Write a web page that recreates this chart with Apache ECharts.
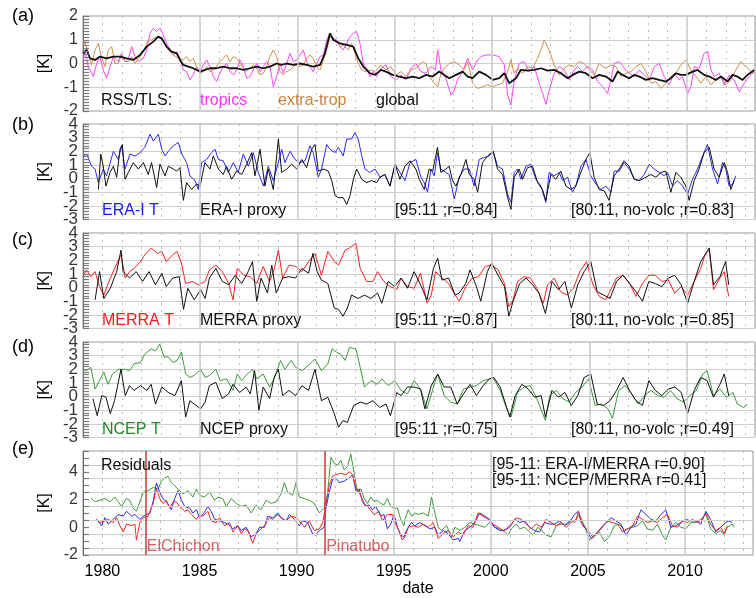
<!DOCTYPE html>
<html><head><meta charset="utf-8">
<script src="https://cdn.jsdelivr.net/npm/echarts@6/dist/echarts.min.js"></script>
<style>html,body{margin:0;padding:0;background:#fff}#c{width:756px;height:598px}</style>
</head><body><div id="c"></div>
<script>
// ---------- DATA (decimal year, K) ----------
const tropicsTLS = [[1979.0,0.08],[1979.1,0.57],[1979.27,-0.13],[1979.53,-0.55],[1979.7,0],[1979.87,0.29],[1980.04,-0.27],[1980.21,-0.62],[1980.39,-0.13],[1980.56,0.29],[1980.81,0.08],[1980.98,0.43],[1981.16,0.08],[1981.33,0.22],[1981.5,0.71],[1981.67,0.29],[1981.84,0.08],[1982.1,0.22],[1982.27,0.57],[1982.44,1.27],[1982.61,1.48],[1982.78,1.34],[1982.95,1.48],[1983.12,1.2],[1983.29,0.85],[1983.47,0.57],[1983.64,0.36],[1983.81,0.5],[1983.98,0.22],[1984.15,-0.27],[1984.32,-0.34],[1984.49,-0.69],[1984.66,-0.48],[1984.83,-0.13],[1985.01,-0.34],[1985.18,-0.06],[1985.35,0.15],[1985.52,-0.13],[1985.69,-0.55],[1985.86,-0.76],[1986.03,-0.41],[1986.2,-0.13],[1986.37,0],[1986.55,-0.34],[1986.72,-0.48],[1986.89,-0.27],[1987.06,0.15],[1987.23,-0.13],[1987.4,-0.62],[1987.57,-0.55],[1987.74,-0.27],[1987.92,0],[1988.09,-0.34],[1988.26,-0.13],[1988.43,0.08],[1988.6,-0.13],[1988.77,-0.98],[1988.94,-0.55],[1989.11,0],[1989.28,-0.41],[1989.46,0],[1989.63,0.43],[1989.8,0.08],[1989.97,0.15],[1990.14,0.36],[1990.31,0.57],[1990.48,0.08],[1990.65,-0.13],[1990.82,-0.34],[1991.0,0],[1991.17,0.29],[1991.34,0.36],[1991.51,0.99],[1991.68,1.27],[1991.85,1.06],[1992.02,0.99],[1992.19,0.71],[1992.36,0.57],[1992.54,0.85],[1992.71,1.13],[1992.88,1.27],[1993.05,1.34],[1993.22,0.85],[1993.39,0],[1993.56,-0.2],[1993.73,-0.55],[1993.9,-0.34],[1994.07,-0.55],[1994.3,-0.2],[1994.55,-0.06],[1994.81,-0.55],[1995.07,-0.69],[1995.32,-0.48],[1995.58,-0.69],[1995.84,-0.2],[1996.09,0],[1996.35,-0.34],[1996.61,-0.41],[1996.86,-0.13],[1997.09,-0.27],[1997.21,0.57],[1997.38,-0.27],[1997.63,-0.62],[1997.89,-1.33],[1998.06,-1.12],[1998.23,-0.69],[1998.49,-0.34],[1998.75,0.22],[1999.0,-0.27],[1999.26,0.15],[1999.43,0.29],[1999.69,0.36],[2000.03,0.36],[2000.37,0.29],[2000.63,-0.06],[2000.8,-1.33],[2000.97,-1.75],[2001.14,-0.69],[2001.4,0],[2001.65,0.08],[2001.91,-0.34],[2002.17,-0.13],[2002.42,-0.83],[2002.6,-1.26],[2002.77,-1.72],[2002.94,-1.12],[2003.19,-0.41],[2003.45,-0.13],[2003.71,-0.27],[2003.96,-0.69],[2004.22,-0.27],[2004.39,-0.13],[2004.65,-0.34],[2004.9,-0.13],[2005.16,-0.27],[2005.42,-0.76],[2005.68,-0.98],[2005.93,-1.26],[2006.1,-0.69],[2006.27,0],[2006.53,0.08],[2006.79,-0.2],[2007.04,-0.41],[2007.3,-0.55],[2007.56,-0.27],[2007.81,-0.48],[2008.07,-0.69],[2008.33,-0.13],[2008.58,0],[2008.84,-0.55],[2009.1,-0.9],[2009.35,-0.41],[2009.61,-0.69],[2009.78,-0.55],[2010.04,-1.26],[2010.21,-0.98],[2010.38,-0.13],[2010.64,-0.2],[2010.89,0.43],[2011.07,0.5],[2011.24,-0.27],[2011.41,-0.55],[2011.66,-0.41],[2011.92,-0.9],[2012.18,-0.48],[2012.43,-0.69],[2012.69,-1.19],[2012.95,-0.83],[2013.2,-0.55],[2013.46,-0.34]];
const extraTropTLS = [[1979.0,0.71],[1979.1,0.92],[1979.27,0.43],[1979.44,-0.06],[1979.62,0.57],[1979.79,0.85],[1979.96,0.22],[1980.13,-0.13],[1980.3,0.57],[1980.47,0.71],[1980.64,0],[1980.81,0],[1980.98,0.36],[1981.16,0.08],[1981.33,0.08],[1981.5,0.29],[1981.67,0],[1981.93,0.29],[1982.1,0.5],[1982.35,0.99],[1982.52,0.99],[1982.78,1.13],[1982.95,1.06],[1983.12,0.92],[1983.38,0.57],[1983.64,0.36],[1983.89,0.22],[1984.15,0.15],[1984.32,0.29],[1984.49,0.08],[1984.66,0.22],[1984.83,-0.13],[1985.01,-0.41],[1985.18,-0.34],[1985.35,-0.13],[1985.52,-0.34],[1985.78,-0.2],[1986.03,0.08],[1986.2,0.22],[1986.37,0.36],[1986.55,0.08],[1986.72,0.29],[1986.89,0.22],[1987.06,0],[1987.23,-0.2],[1987.4,-0.34],[1987.57,-0.2],[1987.74,-0.06],[1987.92,-0.2],[1988.09,-0.48],[1988.26,-0.41],[1988.43,-0.13],[1988.6,0.29],[1988.77,0.57],[1988.94,0.29],[1989.11,-0.34],[1989.28,-0.48],[1989.46,-0.34],[1989.63,-0.27],[1989.8,-0.13],[1989.97,-0.06],[1990.14,-0.13],[1990.31,-0.06],[1990.48,0.22],[1990.65,0.36],[1990.82,0.22],[1991.0,-0.13],[1991.17,-0.27],[1991.34,0.15],[1991.51,0.57],[1991.68,1.13],[1991.85,1.06],[1992.02,0.92],[1992.19,0.71],[1992.36,0.78],[1992.62,0.57],[1992.79,0.85],[1992.96,0.43],[1993.13,0],[1993.31,-0.27],[1993.48,-0.34],[1993.73,-0.27],[1993.99,-0.34],[1994.3,-0.06],[1994.55,-0.27],[1994.81,-0.13],[1995.07,-0.48],[1995.32,-0.34],[1995.58,-0.55],[1995.84,-0.27],[1996.09,-0.2],[1996.44,0.08],[1996.61,0],[1996.78,-0.55],[1997.03,-0.83],[1997.21,-0.98],[1997.38,-0.41],[1997.63,-0.13],[1997.8,0],[1998.06,0.08],[1998.32,-0.06],[1998.57,-0.27],[1998.75,0.08],[1999.0,-0.83],[1999.26,-1.05],[1999.52,-0.98],[1999.77,-0.9],[2000.03,-0.98],[2000.29,-0.9],[2000.54,-0.83],[2000.8,-0.34],[2000.97,0.15],[2001.14,-0.41],[2001.31,-0.2],[2001.57,-0.41],[2001.83,-0.13],[2002.08,-0.2],[2002.34,0.22],[2002.51,0.57],[2002.68,0.99],[2002.85,0.71],[2003.02,0.36],[2003.19,-0.06],[2003.45,-0.48],[2003.71,-0.2],[2003.96,-0.06],[2004.22,-0.13],[2004.48,0.08],[2004.73,0],[2004.99,-0.27],[2005.25,-0.48],[2005.5,0],[2005.68,-0.13],[2005.85,-0.2],[2006.1,-0.06],[2006.36,-0.13],[2006.62,-0.55],[2006.87,-0.41],[2007.13,-0.34],[2007.39,-0.13],[2007.64,0],[2007.9,-0.34],[2008.16,-0.83],[2008.41,-0.76],[2008.67,-1.05],[2008.93,-0.83],[2009.18,-0.55],[2009.44,-0.41],[2009.7,-0.06],[2009.95,0.15],[2010.21,-0.27],[2010.47,-0.55],[2010.72,-0.83],[2010.98,-0.55],[2011.24,-0.9],[2011.49,-0.69],[2011.75,-0.55],[2012.01,-0.9],[2012.26,-0.69],[2012.52,-0.27],[2012.78,0.08],[2013.03,-0.13],[2013.29,-0.34],[2013.46,-0.41]];
const globalTLS = [[1979.0,0.43],[1979.19,0.57],[1979.36,0.22],[1979.62,0.15],[1979.87,0.29],[1980.21,0.22],[1980.56,0.29],[1980.9,0.29],[1981.24,0.22],[1981.58,0.15],[1981.93,0.36],[1982.27,0.71],[1982.61,0.92],[1982.87,1.13],[1983.04,1.06],[1983.29,0.71],[1983.55,0.5],[1983.81,0.43],[1983.98,0.15],[1984.15,-0.06],[1984.41,-0.13],[1984.66,-0.2],[1985.01,-0.34],[1985.26,-0.27],[1985.52,-0.2],[1985.86,-0.2],[1986.2,-0.13],[1986.55,-0.2],[1986.89,-0.2],[1987.23,-0.27],[1987.57,-0.2],[1987.92,-0.13],[1988.26,-0.2],[1988.6,-0.13],[1988.94,0],[1989.2,-0.06],[1989.46,0],[1989.8,-0.06],[1990.14,0],[1990.48,-0.06],[1990.82,-0.13],[1991.17,-0.06],[1991.42,0.43],[1991.68,1.27],[1991.85,0.99],[1992.19,0.85],[1992.54,0.78],[1992.88,0.71],[1993.13,0.22],[1993.39,-0.13],[1993.73,-0.41],[1993.99,-0.48],[1994.3,-0.27],[1994.55,-0.34],[1994.9,-0.48],[1995.24,-0.55],[1995.58,-0.62],[1995.92,-0.55],[1996.26,-0.62],[1996.61,-0.48],[1996.95,-0.55],[1997.29,-0.34],[1997.55,-0.48],[1997.8,-0.62],[1998.15,-0.48],[1998.49,-0.34],[1998.75,-0.55],[1999.0,-0.62],[1999.34,-0.34],[1999.69,-0.48],[2000.03,-0.69],[2000.37,-0.62],[2000.63,-0.41],[2000.88,-0.83],[2001.23,-0.62],[2001.48,-0.27],[2001.83,-0.3],[2002.17,-0.27],[2002.51,-0.2],[2002.85,-0.3],[2003.19,-0.27],[2003.54,-0.41],[2003.88,-0.62],[2004.14,-0.48],[2004.48,-0.34],[2004.82,-0.41],[2005.16,-0.62],[2005.5,-0.48],[2005.85,-0.55],[2006.19,-0.76],[2006.45,-0.34],[2006.7,-0.48],[2007.04,-0.62],[2007.3,-0.48],[2007.56,-0.55],[2007.9,-0.69],[2008.24,-0.62],[2008.58,-0.69],[2008.93,-0.76],[2009.18,-0.62],[2009.44,-0.41],[2009.7,-0.48],[2009.95,-0.48],[2010.3,-0.34],[2010.55,-0.27],[2010.89,-0.48],[2011.15,-0.55],[2011.49,-0.69],[2011.75,-0.55],[2012.09,-0.76],[2012.35,-0.48],[2012.6,-0.55],[2012.86,-0.69],[2013.12,-0.48],[2013.46,-0.27]];

const eraT = [[1979.02,1.66],[1979.19,1.8],[1979.44,0.9],[1979.62,0.7],[1979.79,-0.3],[1980.04,0.7],[1980.21,0.2],[1980.56,2.0],[1980.81,1.4],[1980.98,2.4],[1981.16,0.7],[1981.41,1.8],[1981.67,1.65],[1981.93,1.9],[1982.18,2.3],[1982.44,3.25],[1982.61,2.75],[1982.87,3.25],[1983.04,2.15],[1983.21,1.66],[1983.38,2.0],[1983.64,2.4],[1983.89,2.65],[1984.07,1.8],[1984.32,1.17],[1984.49,0.2],[1984.75,-0.15],[1984.92,-0.8],[1985.09,1.17],[1985.35,1.4],[1985.6,1.9],[1985.78,2.15],[1985.95,1.4],[1986.2,1.3],[1986.46,0.45],[1986.72,1.17],[1986.97,0.45],[1987.23,1.8],[1987.49,0.9],[1987.74,1.9],[1988.0,0.45],[1988.26,-0.55],[1988.51,0.9],[1988.77,-0.15],[1988.94,0.7],[1989.2,2.15],[1989.37,1.17],[1989.63,2.0],[1989.88,1.4],[1990.14,1.17],[1990.4,1.3],[1990.65,2.4],[1990.82,1.9],[1991.08,0.1],[1991.25,0.7],[1991.51,2.5],[1991.68,2.15],[1991.94,1.9],[1992.11,2.3],[1992.36,1.66],[1992.54,2.9],[1992.79,2.9],[1992.96,3.35],[1993.13,2.9],[1993.31,1.66],[1993.48,0.7],[1993.73,0.45],[1993.99,0.7],[1994.25,0.1],[1994.5,0.3],[1994.76,-0.55],[1995.02,1.05],[1995.27,0.45],[1995.53,-0.15],[1995.79,1.17],[1996.09,1.4],[1996.35,0.1],[1996.52,-0.3],[1996.69,-1.0],[1996.86,0.7],[1997.03,0.2],[1997.2,1.9],[1997.37,0.7],[1997.63,0.45],[1997.8,0.3],[1998.06,-1.5],[1998.31,0.1],[1998.57,0.7],[1998.83,0.7],[1999.08,-0.55],[1999.34,1.4],[1999.6,1.55],[1999.85,1.65],[2000.06,2.0],[2000.28,0.9],[2000.54,0.7],[2000.8,-1.15],[2000.97,-1.75],[2001.14,0.45],[2001.31,0.7],[2001.48,-0.05],[2001.74,0.9],[2001.99,1.05],[2002.25,-0.05],[2002.51,-0.55],[2002.76,-1.75],[2002.93,0.45],[2003.19,0.2],[2003.45,0.45],[2003.62,-0.15],[2003.88,0.1],[2004.13,-1.0],[2004.3,-0.55],[2004.56,0.9],[2004.82,1.4],[2005.07,0.2],[2005.33,-0.4],[2005.59,-0.8],[2005.84,-0.55],[2006.1,-1.0],[2006.27,0.55],[2006.53,0.55],[2006.78,1.17],[2007.04,0.7],[2007.3,-0.05],[2007.55,-0.15],[2007.81,0.3],[2008.07,1.05],[2008.32,0.7],[2008.58,0.45],[2008.84,0.2],[2009.01,0.45],[2009.27,-0.55],[2009.52,-0.15],[2009.78,-0.55],[2010.04,-1.15],[2010.29,-0.05],[2010.55,0.7],[2010.81,1.65],[2011.06,2.5],[2011.32,0.7],[2011.58,-0.4],[2011.83,1.17],[2012.0,0.7],[2012.17,-0.55],[2012.35,-0.4],[2012.52,0.2]];
const eraProxy = [[1979.79,-0.8],[1979.91,1.8],[1980.04,0.9],[1980.18,-0.55],[1980.39,0.45],[1980.56,0.9],[1980.73,0.1],[1980.9,2.15],[1981.02,2.5],[1981.16,-0.05],[1981.33,0.45],[1981.58,1.17],[1981.84,0.7],[1982.1,1.17],[1982.35,0.3],[1982.52,1.17],[1982.78,-0.65],[1982.95,1.05],[1983.21,0.2],[1983.38,0.9],[1983.64,0.7],[1983.81,0.55],[1983.98,0.8],[1984.15,-1.6],[1984.32,-0.3],[1984.58,-0.8],[1984.83,-0.4],[1985.01,-0.55],[1985.26,1.17],[1985.52,0.7],[1985.69,1.66],[1985.95,0.7],[1986.2,0.3],[1986.37,0.9],[1986.63,-0.05],[1986.89,0.55],[1987.15,0.3],[1987.4,1.05],[1987.66,1.9],[1987.83,0.2],[1988.09,2.15],[1988.34,-0.55],[1988.51,0.7],[1988.77,-0.8],[1989.03,2.9],[1989.2,0.45],[1989.46,0.7],[1989.71,1.05],[1989.97,0.7],[1990.23,1.4],[1990.48,0.8],[1990.74,2.15],[1990.91,2.5],[1991.08,0.55],[1991.34,0.7],[1991.59,0.55],[1991.77,-0.15],[1991.94,-1.25],[1992.11,-1.4],[1992.36,-1.4],[1992.54,-1.9],[1992.71,-1.25],[1992.88,-0.05],[1993.05,0.7],[1993.31,-0.05],[1993.56,-0.3],[1993.82,-0.15],[1994.08,-0.3],[1994.25,0.1],[1994.5,0.3],[1994.76,-0.55],[1995.02,1.05],[1995.27,-0.05],[1995.53,0.9],[1995.79,1.3],[1996.09,0.7],[1996.26,-0.05],[1996.52,-0.8],[1996.77,0.7],[1996.95,0.55],[1997.2,2.3],[1997.37,0.45],[1997.63,0.7],[1997.8,0.9],[1997.97,-0.15],[1998.14,-0.55],[1998.4,0.3],[1998.66,1.4],[1998.83,0.3],[1999.08,-0.05],[1999.26,-1.0],[1999.51,1.17],[1999.77,1.65],[2000.06,2.0],[2000.28,0.7],[2000.54,0.3],[2000.8,-1.4],[2000.97,-2.25],[2001.14,0.1],[2001.39,0.7],[2001.57,-0.05],[2001.82,0.8],[2002.08,0.9],[2002.34,-0.3],[2002.59,-0.8],[2002.76,-1.6],[2003.02,0.3],[2003.28,-0.05],[2003.53,0.55],[2003.79,-0.55],[2004.05,-0.8],[2004.3,-0.55],[2004.56,0.45],[2004.82,1.4],[2005.02,1.9],[2005.24,0.1],[2005.5,-0.8],[2005.76,-0.9],[2006.01,-1.6],[2006.27,0.2],[2006.53,0.7],[2006.78,1.3],[2007.04,0.9],[2007.3,-0.05],[2007.55,-0.15],[2007.9,0.1],[2008.15,0.3],[2008.41,0.1],[2008.67,0.45],[2008.92,0.55],[2009.18,-1.0],[2009.44,0.45],[2009.69,0.1],[2009.95,-0.55],[2010.12,-1.6],[2010.38,-0.15],[2010.63,0.7],[2010.89,1.9],[2011.15,2.3],[2011.4,0.7],[2011.66,0.1],[2011.92,1.17],[2012.09,0.45],[2012.26,-0.8],[2012.43,-0.15]];

const merraT = [[1979.0,0.8],[1979.18,1.3],[1979.4,0.8],[1979.62,1.17],[1979.85,0.07],[1980.07,-0.55],[1980.29,0.3],[1980.62,1.4],[1980.95,2.4],[1981.17,0.7],[1981.39,1.17],[1981.62,1.4],[1981.95,1.9],[1982.17,2.4],[1982.5,2.9],[1982.83,2.5],[1983.05,2.65],[1983.27,1.9],[1983.61,2.4],[1983.83,2.65],[1984.05,1.8],[1984.27,0.3],[1984.6,0.45],[1984.93,0.2],[1985.27,0.45],[1985.49,1.3],[1985.82,1.65],[1986.15,1.17],[1986.48,0.3],[1986.7,-0.9],[1986.92,1.4],[1987.26,0.9],[1987.59,0.8],[1987.92,0.3],[1988.25,1.55],[1988.58,0.45],[1988.81,1.3],[1989.03,2.75],[1989.25,0.7],[1989.58,1.65],[1989.91,1.55],[1990.24,1.17],[1990.58,1.9],[1990.91,2.5],[1991.24,0.9],[1991.57,2.65],[1991.9,1.9],[1992.12,1.65],[1992.46,2.75],[1992.68,2.9],[1993.01,3.25],[1993.23,1.4],[1993.56,0.45],[1993.89,0.45],[1994.12,1.17],[1994.45,0.45],[1994.78,0.07],[1995.11,-0.15],[1995.33,0.7],[1995.66,0.07],[1996.0,-0.05],[1996.33,1.05],[1996.66,-1.15],[1996.88,-0.55],[1997.1,1.17],[1997.43,0.7],[1997.77,0.3],[1998.1,-0.55],[1998.32,-1.0],[1998.65,0.07],[1998.98,0.7],[1999.31,0.8],[1999.65,1.55],[1999.98,1.65],[2000.31,1.3],[2000.64,0.3],[2000.86,-1.4],[2001.08,-0.9],[2001.31,0.45],[2001.64,0.8],[2001.97,0.7],[2002.3,-0.05],[2002.63,-1.15],[2002.85,0.2],[2003.19,0.7],[2003.52,-0.3],[2003.85,-0.55],[2004.18,-0.05],[2004.51,1.17],[2004.85,1.9],[2005.18,0.2],[2005.51,-0.65],[2005.84,-0.9],[2006.17,0.07],[2006.39,0.7],[2006.73,0.9],[2007.06,0.3],[2007.39,-0.65],[2007.72,0.3],[2008.05,0.9],[2008.38,0.9],[2008.72,0.45],[2009.05,0.55],[2009.38,-0.4],[2009.71,0.07],[2010.04,-0.55],[2010.38,0.45],[2010.71,1.4],[2010.93,2.4],[2011.15,2.75],[2011.37,-0.15],[2011.7,0.7],[2011.92,1.17],[2012.15,-0.65]];
const merraProxy = [[1979.62,-0.9],[1979.85,1.17],[1980.07,-0.8],[1980.4,-0.05],[1980.73,1.17],[1980.95,2.75],[1981.06,1.17],[1981.39,0.7],[1981.73,1.17],[1982.06,0.45],[1982.39,1.17],[1982.72,0.2],[1983.05,1.05],[1983.27,0.07],[1983.61,0.7],[1983.94,0.8],[1984.16,-1.6],[1984.38,-0.05],[1984.71,-0.9],[1985.04,-0.15],[1985.27,-0.8],[1985.49,0.7],[1985.82,1.4],[1986.15,0.45],[1986.48,0.2],[1986.81,0.9],[1987.15,0.3],[1987.48,1.17],[1987.7,1.9],[1987.92,-1.0],[1988.14,0.7],[1988.47,-0.4],[1988.69,1.65],[1988.92,-0.4],[1989.25,0.7],[1989.58,0.8],[1989.91,0.7],[1990.24,1.4],[1990.58,1.05],[1990.8,2.5],[1991.02,1.17],[1991.24,0.55],[1991.57,0.3],[1991.9,-1.5],[1992.12,-1.6],[1992.35,-2.1],[1992.57,-1.5],[1992.79,-0.55],[1993.12,-0.8],[1993.45,-0.55],[1993.78,-0.8],[1994.12,-0.4],[1994.34,-1.15],[1994.67,0.45],[1995.0,0.07],[1995.33,0.7],[1995.66,-0.05],[1996.0,1.17],[1996.33,0.2],[1996.66,-0.9],[1996.99,1.4],[1997.21,2.15],[1997.43,0.55],[1997.77,0.7],[1998.1,-0.55],[1998.32,-0.4],[1998.65,0.3],[1998.87,1.3],[1999.2,0.07],[1999.42,-1.0],[1999.76,1.17],[1999.98,1.8],[2000.31,0.9],[2000.64,0.07],[2000.86,-2.1],[2001.08,-1.0],[2001.42,0.3],[2001.75,0.7],[2002.08,0.2],[2002.41,-0.4],[2002.74,-1.9],[2003.08,0.45],[2003.41,-0.15],[2003.74,0.45],[2004.07,-1.5],[2004.4,0.2],[2004.73,1.17],[2005.07,1.9],[2005.4,-0.3],[2005.73,-0.55],[2006.06,-0.8],[2006.39,0.45],[2006.73,0.9],[2007.06,0.3],[2007.39,-0.3],[2007.72,-1.0],[2008.05,0.45],[2008.38,0.3],[2008.72,0.07],[2009.05,0.7],[2009.38,0.9],[2009.71,0.2],[2010.04,-1.15],[2010.38,0.45],[2010.71,1.9],[2011.15,2.9],[2011.37,0.2],[2011.7,0.8],[2011.99,1.9],[2012.15,0.2]];

const ncepT = [[1979.0,2.0],[1979.18,1.9],[1979.4,2.15],[1979.62,0.55],[1979.85,1.17],[1980.07,1.8],[1980.29,0.9],[1980.51,1.65],[1980.84,2.0],[1981.17,2.0],[1981.39,1.9],[1981.62,2.4],[1981.95,2.5],[1982.17,3.1],[1982.5,3.5],[1982.72,3.35],[1982.94,3.85],[1983.16,2.9],[1983.38,2.9],[1983.61,2.5],[1983.83,2.65],[1984.05,3.25],[1984.27,1.65],[1984.49,1.4],[1984.71,1.55],[1985.04,2.0],[1985.27,1.4],[1985.49,1.55],[1985.82,2.0],[1986.04,1.17],[1986.37,1.3],[1986.7,0.45],[1986.92,1.65],[1987.15,1.17],[1987.37,1.55],[1987.7,2.0],[1987.92,1.3],[1988.25,1.65],[1988.58,0.7],[1988.81,1.3],[1989.14,2.65],[1989.36,2.0],[1989.69,2.65],[1989.91,2.15],[1990.24,1.9],[1990.58,2.3],[1990.91,2.75],[1991.24,1.9],[1991.57,2.4],[1991.79,3.5],[1992.01,3.25],[1992.23,3.1],[1992.46,2.65],[1992.68,3.6],[1993.01,3.5],[1993.23,2.15],[1993.45,0.7],[1993.78,1.17],[1994.12,0.9],[1994.34,1.3],[1994.67,0.8],[1995.0,1.17],[1995.33,0.45],[1995.66,0.2],[1996.0,1.17],[1996.33,0.55],[1996.66,-0.9],[1996.99,0.7],[1997.21,1.65],[1997.54,0.07],[1997.88,-0.4],[1998.21,-0.55],[1998.54,0.55],[1998.87,0.7],[1999.2,0.8],[1999.54,1.17],[1999.87,1.3],[2000.09,1.3],[2000.42,0.45],[2000.75,-0.9],[2000.97,-1.5],[2001.31,0.3],[2001.64,0.7],[2001.97,0.8],[2002.3,-0.15],[2002.74,-1.75],[2002.96,0.07],[2003.3,0.45],[2003.63,-0.15],[2003.96,-0.4],[2004.29,0.3],[2004.62,0.7],[2004.96,1.3],[2005.29,-0.65],[2005.62,-0.55],[2005.96,-0.9],[2006.18,-1.6],[2006.5,0.45],[2006.84,0.8],[2007.17,0.2],[2007.5,-0.55],[2007.83,0.07],[2008.16,0.45],[2008.5,0.07],[2008.83,-0.05],[2009.16,0.45],[2009.49,-0.15],[2009.82,-0.4],[2010.16,0.07],[2010.49,0.45],[2010.82,1.65],[2011.04,1.9],[2011.37,0.07],[2011.7,0.55],[2012.04,-0.05],[2012.37,0.3],[2012.59,-0.55],[2012.92,-0.8],[2013.1,-0.55]];
const ncepProxy = [[1979.51,-0.15],[1979.73,-1.4],[1979.96,0.07],[1980.18,-0.05],[1980.4,-1.25],[1980.62,-0.3],[1980.95,2.0],[1981.17,0.07],[1981.39,0.8],[1981.62,0.45],[1981.95,0.8],[1982.28,0.45],[1982.5,0.9],[1982.72,-0.55],[1983.05,0.7],[1983.38,0.3],[1983.72,0.07],[1984.05,1.17],[1984.27,-1.5],[1984.49,-0.3],[1984.71,-0.55],[1985.04,-0.9],[1985.27,-0.4],[1985.49,0.8],[1985.82,1.05],[1986.15,-0.15],[1986.48,0.2],[1986.7,0.9],[1987.04,0.3],[1987.37,0.7],[1987.59,0.2],[1987.81,1.9],[1988.03,-1.0],[1988.25,0.7],[1988.58,-0.15],[1988.81,1.4],[1989.03,2.0],[1989.25,0.07],[1989.58,0.45],[1989.91,0.07],[1990.24,0.8],[1990.58,0.45],[1990.91,2.0],[1991.24,-0.3],[1991.57,-0.05],[1991.9,-1.25],[1992.12,-2.25],[1992.35,-1.75],[1992.57,-1.9],[1992.9,-0.65],[1993.23,-0.4],[1993.56,-0.55],[1993.89,-0.3],[1994.23,-0.8],[1994.56,-0.55],[1994.78,-1.4],[1995.11,0.3],[1995.33,0.07],[1995.66,0.7],[1996.0,0.7],[1996.33,0.55],[1996.55,-0.9],[1996.88,0.8],[1997.21,1.65],[1997.54,0.7],[1997.88,0.7],[1998.21,-0.55],[1998.54,0.2],[1998.87,0.9],[1999.2,0.07],[1999.54,0.8],[1999.87,1.3],[2000.09,1.4],[2000.42,0.7],[2000.75,-0.8],[2000.91,-1.5],[2001.19,0.07],[2001.53,0.9],[2001.86,0.55],[2002.19,-0.05],[2002.52,0.07],[2002.74,-1.5],[2003.08,0.45],[2003.41,-0.05],[2003.74,0.3],[2004.07,-0.65],[2004.4,0.07],[2004.73,1.4],[2005.07,1.65],[2005.4,-0.55],[2005.73,-0.65],[2006.06,-0.3],[2006.39,0.45],[2006.73,1.4],[2007.06,0.45],[2007.39,-0.3],[2007.72,-0.65],[2008.05,1.17],[2008.38,0.45],[2008.72,0.07],[2009.05,0.55],[2009.38,0.7],[2009.71,0.3],[2010.04,-1.25],[2010.38,0.45],[2010.71,1.4],[2011.04,1.17],[2011.37,-0.05],[2011.7,0.9],[2011.92,1.65],[2012.15,0.07]];

const residERA = [[1979.7,0.57],[1979.96,0.11],[1980.13,0.69],[1980.3,0.23],[1980.56,0.57],[1980.81,0.92],[1981.07,0.8],[1981.24,1.15],[1981.5,0.8],[1981.67,0.92],[1981.93,0.57],[1982.1,0.8],[1982.27,0.92],[1982.44,1.03],[1982.61,1.84],[1982.78,3.2],[1982.95,2.5],[1983.12,2.07],[1983.29,1.84],[1983.55,1.26],[1983.72,2.07],[1983.89,2.64],[1984.07,1.95],[1984.24,1.5],[1984.49,1.38],[1984.66,1.03],[1984.84,1.26],[1985.01,0.69],[1985.18,0.92],[1985.43,1.5],[1985.6,1.15],[1985.78,0.57],[1986.03,0.46],[1986.29,0.34],[1986.46,0.23],[1986.72,-0.11],[1986.97,0.11],[1987.15,-0.23],[1987.4,0],[1987.66,-0.69],[1987.92,-0.46],[1988.09,0],[1988.34,0],[1988.51,0.8],[1988.77,0.69],[1989.03,1.03],[1989.2,0.69],[1989.46,0.46],[1989.63,0.92],[1989.88,0.57],[1990.14,0.11],[1990.31,0.46],[1990.57,0.34],[1990.82,-0.46],[1990.99,-0.57],[1991.17,-0.23],[1991.42,0],[1991.51,1.38],[1991.68,2.53],[1991.85,3.45],[1992.02,3.56],[1992.19,3.22],[1992.45,3.33],[1992.71,3.56],[1992.88,3.79],[1993.05,2.64],[1993.22,2.76],[1993.39,1.84],[1993.56,1.5],[1993.73,1.61],[1993.9,1.26],[1994.08,1.5],[1994.33,0.8],[1994.5,0.92],[1994.67,-0.11],[1994.85,0.23],[1995.02,0.92],[1995.19,0],[1995.36,-0.57],[1995.53,-0.69],[1995.58,-0.46],[1995.75,0],[1995.92,0.34],[1996.09,0.11],[1996.35,0.34],[1996.61,0.11],[1996.86,-0.11],[1997.12,0],[1997.29,-0.57],[1997.55,-0.23],[1997.8,-0.46],[1998.06,-0.92],[1998.32,-0.8],[1998.4,-1.03],[1998.66,-0.23],[1998.92,0],[1999.17,0.34],[1999.43,1.03],[1999.69,0.8],[1999.94,0.57],[2000.2,0],[2000.46,-0.23],[2000.71,-0.23],[2000.97,0],[2001.23,0.57],[2001.48,0.34],[2001.74,0.46],[2002.0,0],[2002.25,-0.23],[2002.51,-0.34],[2002.77,0.34],[2003.02,0.23],[2003.28,0.23],[2003.54,0.46],[2003.79,0.11],[2004.05,0.34],[2004.31,0.92],[2004.51,1.15],[2004.65,0.34],[2004.91,-0.11],[2005.16,-0.8],[2005.42,-0.46],[2005.68,-0.11],[2005.93,0.34],[2006.19,0.69],[2006.45,0.46],[2006.7,0.23],[2006.96,-0.57],[2007.22,0],[2007.47,0.23],[2007.73,1.26],[2007.99,0.92],[2008.24,0.57],[2008.5,0.46],[2008.76,0.92],[2009.01,1.26],[2009.27,0],[2009.53,0.11],[2009.78,0.34],[2010.04,0.57],[2010.3,0.46],[2010.55,0.46],[2010.81,0.23],[2011.07,1.15],[2011.32,0.57],[2011.58,-0.34],[2011.84,0],[2012.09,0.34],[2012.26,0.46],[2012.43,0.34]];
const residMERRA = [[1979.7,0.57],[1979.87,0.34],[1980.13,0.46],[1980.3,0.57],[1980.56,0.34],[1980.73,0.69],[1980.9,0.11],[1981.07,-0.34],[1981.24,0.23],[1981.5,0.11],[1981.67,0.23],[1981.75,-0.92],[1981.93,0.34],[1982.1,0.69],[1982.35,0.8],[1982.61,1.72],[1982.78,2.76],[1982.95,2.07],[1983.12,1.72],[1983.29,1.95],[1983.47,1.38],[1983.64,1.84],[1983.81,1.84],[1983.98,1.5],[1984.24,1.15],[1984.41,1.26],[1984.58,0.92],[1984.84,0.57],[1985.01,0.92],[1985.18,0.8],[1985.43,1.15],[1985.6,0.46],[1985.86,0.34],[1986.03,0.69],[1986.29,0.11],[1986.55,0.34],[1986.72,-0.34],[1986.97,0.11],[1987.15,-0.46],[1987.32,-0.11],[1987.49,-0.23],[1987.74,-1.15],[1987.92,-0.46],[1988.09,-0.23],[1988.34,0.11],[1988.6,0.69],[1988.77,0.57],[1989.03,0.92],[1989.28,0.57],[1989.46,0.46],[1989.71,0.8],[1989.97,0.69],[1990.14,0.46],[1990.4,0],[1990.65,0.46],[1990.91,-0.23],[1991.17,-0.11],[1991.34,0.34],[1991.51,1.61],[1991.68,3.0],[1991.85,3.68],[1992.02,3.79],[1992.28,3.9],[1992.54,3.79],[1992.71,4.0],[1992.88,3.79],[1993.05,2.87],[1993.22,2.53],[1993.48,1.72],[1993.73,1.38],[1993.99,0.92],[1994.25,1.15],[1994.42,0.46],[1994.67,0.92],[1994.93,0.92],[1995.1,0.23],[1995.27,-0.23],[1995.44,-0.92],[1995.58,-0.69],[1995.75,0],[1996.01,0.11],[1996.26,0],[1996.52,0.23],[1996.78,0],[1997.03,0.34],[1997.29,-0.8],[1997.55,-0.46],[1997.8,-0.23],[1998.06,-0.69],[1998.32,-0.34],[1998.57,-0.57],[1998.83,0.11],[1999.09,0],[1999.34,1.03],[1999.6,0.8],[1999.86,0.57],[2000.11,0.23],[2000.37,0],[2000.63,-0.23],[2000.8,-0.11],[2001.06,0.23],[2001.31,0.69],[2001.57,0.57],[2001.83,0.23],[2002.08,-0.11],[2002.34,0.23],[2002.6,0],[2002.85,0.57],[2003.11,0.34],[2003.37,0.11],[2003.62,0.34],[2003.88,0],[2004.14,0.34],[2004.39,0.57],[2004.51,1.15],[2004.73,0.11],[2004.99,-0.23],[2005.25,-0.69],[2005.5,-0.34],[2005.76,0.11],[2006.02,0.46],[2006.27,0.34],[2006.53,0.23],[2006.79,-0.34],[2007.05,-0.11],[2007.3,0.11],[2007.56,0.8],[2007.81,0.57],[2008.07,0.34],[2008.33,0.46],[2008.58,0.34],[2008.84,0.69],[2009.1,0.92],[2009.35,0.11],[2009.61,0],[2009.87,0.46],[2010.12,0.34],[2010.38,0.57],[2010.64,0.34],[2010.89,0.57],[2011.07,1.03],[2011.32,0.23],[2011.58,-0.23],[2011.84,0],[2012.01,-0.46],[2012.18,0.11]];
const residNCEP = [[1979.41,2.1],[1979.62,1.84],[1979.87,1.95],[1980.13,2.07],[1980.39,1.84],[1980.64,2.18],[1980.81,1.84],[1980.98,1.5],[1981.24,2.07],[1981.41,1.95],[1981.58,1.38],[1981.75,1.15],[1981.93,1.84],[1982.1,2.53],[1982.35,2.64],[1982.61,2.87],[1982.87,2.76],[1983.04,3.33],[1983.21,3.56],[1983.38,3.68],[1983.55,3.22],[1983.72,2.99],[1983.89,2.76],[1984.15,2.41],[1984.41,2.64],[1984.66,2.18],[1984.84,2.76],[1985.01,2.3],[1985.26,2.18],[1985.52,2.53],[1985.78,1.95],[1985.95,2.18],[1986.2,2.07],[1986.38,1.5],[1986.63,2.07],[1986.89,1.72],[1987.15,1.5],[1987.4,1.61],[1987.66,1.03],[1987.92,1.61],[1988.17,1.26],[1988.43,1.95],[1988.69,1.72],[1988.94,1.84],[1989.2,2.41],[1989.37,3.22],[1989.54,2.53],[1989.8,2.3],[1989.97,3.22],[1990.14,2.18],[1990.4,2.07],[1990.65,1.95],[1990.91,1.72],[1991.17,1.03],[1991.42,1.38],[1991.59,2.41],[1991.77,5.06],[1991.94,4.6],[1992.11,4.48],[1992.28,4.83],[1992.45,4.14],[1992.62,4.37],[1992.79,5.29],[1992.96,3.91],[1993.13,2.53],[1993.31,2.76],[1993.48,2.07],[1993.65,1.72],[1993.82,2.18],[1993.99,1.84],[1994.16,1.95],[1994.33,1.72],[1994.5,1.61],[1994.67,2.07],[1994.85,1.5],[1995.02,1.38],[1995.19,1.38],[1995.36,0.57],[1995.53,0.11],[1995.58,0.57],[1995.75,1.26],[1995.92,0.8],[1996.09,1.03],[1996.26,0.92],[1996.52,1.03],[1996.78,0.8],[1996.95,2.18],[1997.12,1.03],[1997.29,0],[1997.46,-0.23],[1997.72,0.11],[1997.98,-0.69],[1998.15,0],[1998.4,-0.23],[1998.66,0],[1998.92,0.34],[1999.17,0.23],[1999.43,0.11],[1999.69,0],[1999.94,0.34],[2000.2,0],[2000.46,-0.11],[2000.71,-0.34],[2000.88,-0.57],[2001.06,-0.11],[2001.31,0.23],[2001.48,-0.11],[2001.74,0],[2002.0,-0.34],[2002.17,-0.57],[2002.42,0],[2002.6,-0.23],[2002.85,-0.57],[2003.11,-0.69],[2003.37,0.11],[2003.62,0.23],[2003.88,0.23],[2004.14,0.57],[2004.31,0.34],[2004.56,0.92],[2004.82,0.11],[2005.08,-0.92],[2005.33,-0.69],[2005.59,-0.34],[2005.85,-1.03],[2006.1,-0.69],[2006.36,0.11],[2006.62,0.23],[2006.87,-0.23],[2007.05,-0.11],[2007.3,0],[2007.56,0.11],[2007.81,0.46],[2008.07,-0.11],[2008.33,-0.23],[2008.58,0.23],[2008.84,-0.57],[2009.01,-0.92],[2009.27,0],[2009.53,0.34],[2009.78,0],[2010.04,-0.11],[2010.3,0.34],[2010.55,0.34],[2010.81,0.57],[2011.07,0.92],[2011.32,-0.11],[2011.58,-0.46],[2011.84,-0.23],[2012.01,-0.57],[2012.18,0],[2012.43,0.23],[2012.52,0]];

const volcanoYears = [1982.23, 1991.47];
const volcanoNames = ['ElChichon', 'Pinatubo'];
const volcanoLabelK = [-1.4, -1.4];
const majorYearLines = [1985, 1990, 1995, 2000, 2005, 2010];
const residGridK = [-1.5, -0.5, 0.5, 1.5, 2.5, 3.5, 4.5];
const tickLabelsK = [[-2,-1,0,1,2], [-3,-2,-1,0,1,2,3,4], [-3,-2,-1,0,1,2,3,4], [-3,-2,-1,0,1,2,3,4], [-2,0,2,4]];

// ---------- LAYOUT / STYLE ----------
const FONT = '"Liberation Sans", Arial, Helvetica, sans-serif';
const panels = [
  {top:16,  height:95,   min:-2, max:2,   interval:1, fineSteps:32, lab:16},
  {top:124, height:95.5, min:-3, max:4,   interval:1, fineSteps:35, lab:17},
  {top:233, height:95.5, min:-3, max:4,   interval:1, fineSteps:35, lab:17},
  {top:342, height:95.5, min:-3, max:4,   interval:1, fineSteps:35, lab:17},
  {top:451, height:107,  min:-2, max:5.5, interval:2, fineSteps:15, lab:16}
];
const C = {blue:'#2a2aff', red:'#ff2222', green:'#3a9a3a', magenta:'#ff44ff', tan:'#d0904a', black:'#111', volc:'#cc3a3a'};

const grids = panels.map(p => ({left:83, width:672, top:p.top, height:p.height, show:true, borderColor:'#999', borderWidth:1}));
const xAxes = panels.map((p,i) => ({
  type:'value', gridIndex:i, min:1979, max:2013.5, interval:1,
  axisLine:{show:false}, axisTick:{show:false},
  axisLabel:{show:i===4, margin:9, fontSize:16, color:'#000', fontFamily:FONT,
    formatter: v => (v % 5 === 0 ? String(v) : '')},
  splitLine:{show:true, lineStyle:{color:'#bdbdbd', type:[2,5], width:1}},
  name: i===4 ? 'date' : '', nameLocation:'middle', nameGap:26,
  nameTextStyle:{fontSize:16, color:'#000', fontFamily:FONT}
}));
const yAxes = panels.map((p,i) => ({
  type:'value', gridIndex:i, min:p.min, max:p.max, interval:p.interval,
  axisLine:{show:true, lineStyle:{color:'#666', width:1}},
  axisTick:{show:false},
  axisLabel:{show:false},
  splitLine:{show:i!==4, lineStyle:{color:'#cfcfcf', width:1}},
  name:'[K]', nameLocation:'middle', nameRotate:90, nameGap:30,
  nameTextStyle:{fontSize:16, color:'#000', fontFamily:FONT}
}));

function line(data, idx, color, width, z) {
  return {type:'line', xAxisIndex:idx, yAxisIndex:idx, data, showSymbol:false, symbol:'none',
    lineStyle:{color, width}, itemStyle:{color}, z, silent:true, animation:false, clip:true};
}
const series = [];
panels.forEach((p,i) => {
  const ml = majorYearLines.map(v => ({xAxis:v}));
  const extra = i===4 ? residGridK.map(v => ({yAxis:v, lineStyle:{color:'#cfcfcf', width:1, type:'solid'}})) : [];
  series.push({type:'line', xAxisIndex:i, yAxisIndex:i, data:[], z:1, silent:true, animation:false,
    markLine:{silent:true, symbol:['none','none'], label:{show:false}, animation:false,
      lineStyle:{color:'#cdcdcd', width:1.5, type:'solid'}, data: ml.concat(extra)}});
  // dense minor ticks along the left axis, placed through the axis scale
  const segs = [];
  for (let k = 0; k <= p.fineSteps; k++) {
    const v = p.min + (p.max - p.min) * k / p.fineSteps;
    segs.push([{coord:[1979, v]}, {coord:[1979.31, v]}]);
  }
  series.push({type:'line', xAxisIndex:i, yAxisIndex:i, data:[], z:8, silent:true, animation:false,
    markLine:{silent:true, symbol:['none','none'], label:{show:false}, animation:false, precision:6,
      lineStyle:{color:'#7a7a7a', width:1.2, type:'solid'}, data: segs}});
  // y tick labels, positioned through the axis scale
  series.push({type:'scatter', xAxisIndex:i, yAxisIndex:i, z:9, silent:true, animation:false, clip:false,
    symbolSize:0, data: tickLabelsK[i].map(v => [1979, v]),
    label:{show:true, position:'left', distance:5, formatter: prm => String(prm.value[1]),
      color:'#000', fontSize:p.lab, fontFamily:FONT}});
});
series.push(line(tropicsTLS, 0, C.magenta, 1, 3));
series.push(line(extraTropTLS, 0, C.tan, 1, 3));
series.push(line(globalTLS, 0, C.black, 1.8, 4));
series.push(line(eraT, 1, C.blue, 1, 3));
series.push(line(eraProxy, 1, C.black, 1, 4));
series.push(line(merraT, 2, C.red, 1, 3));
series.push(line(merraProxy, 2, C.black, 1, 4));
series.push(line(ncepT, 3, C.green, 1, 3));
series.push(line(ncepProxy, 3, C.black, 1, 4));
series.push(line(residNCEP, 4, C.green, 1, 3));
series.push(line(residERA, 4, C.blue, 1, 3));
series.push(line(residMERRA, 4, C.red, 1, 4));
series.push({type:'scatter', xAxisIndex:4, yAxisIndex:4, z:6, silent:true, animation:false,
  symbolSize:0, data: volcanoYears.map((y,k) => ({value:[y, volcanoLabelK[k]], name:volcanoNames[k]})),
  label:{show:true, position:'right', distance:1, formatter:'{b}', color:C.volc, fontSize:16, fontFamily:FONT},
  markLine:{silent:true, symbol:['none','none'], label:{show:false}, animation:false,
    lineStyle:{color:C.volc, width:1.5, type:'solid'}, data: volcanoYears.map(v => ({xAxis:v}))}});

function txt(text, x, y, color, size) {
  return {type:'text', x, y, z:100, silent:true,
    style:{text, fill:color, font:`${size||16}px ${FONT}`, align:'left', verticalAlign:'middle'}};
}
const graphic = [
  txt('(a)', 12, 16, '#000', 18), txt('(b)', 12, 125, '#000', 18), txt('(c)', 12, 240, '#000', 18),
  txt('(d)', 12, 347, '#000', 18), txt('(e)', 12, 449, '#000', 18),
  txt('RSS/TLS:', 101, 101, '#111'), txt('tropics', 200, 101, '#ff33ff'), txt('extra-trop', 278, 101, '#c8843c'), txt('global', 376, 101, '#111'),
  txt('ERA-I T', 102, 211, '#1a1aff'), txt('ERA-I proxy', 200, 211, '#111'), txt('[95:11 ;r=0.84]', 395, 211, '#111'), txt('[80:11, no-volc ;r=0.83]', 571, 211, '#111'),
  txt('MERRA T', 102, 321, '#ff1a1a'), txt('MERRA proxy', 200, 321, '#111'), txt('[95:11 ;r=0.87]', 395, 321, '#111'), txt('[80:11, no-volc ;r=0.85]', 571, 321, '#111'),
  txt('NCEP T', 102, 430, '#228b22'), txt('NCEP proxy', 200, 430, '#111'), txt('[95:11 ;r=0.75]', 395, 430, '#111'), txt('[80:11, no-volc ;r=0.49]', 571, 430, '#111'),
  txt('Residuals', 101, 466, '#111'), txt('[95-11: ERA-I/MERRA r=0.90]', 492, 465, '#111'), txt('[95-11: NCEP/MERRA r=0.41]', 492, 481, '#111')
];

const chart = echarts.init(document.getElementById('c'), null, {renderer:'canvas'});
chart.setOption({animation:false, backgroundColor:'#fff', grid:grids, xAxis:xAxes, yAxis:yAxes, series, graphic});
</script></body></html>
